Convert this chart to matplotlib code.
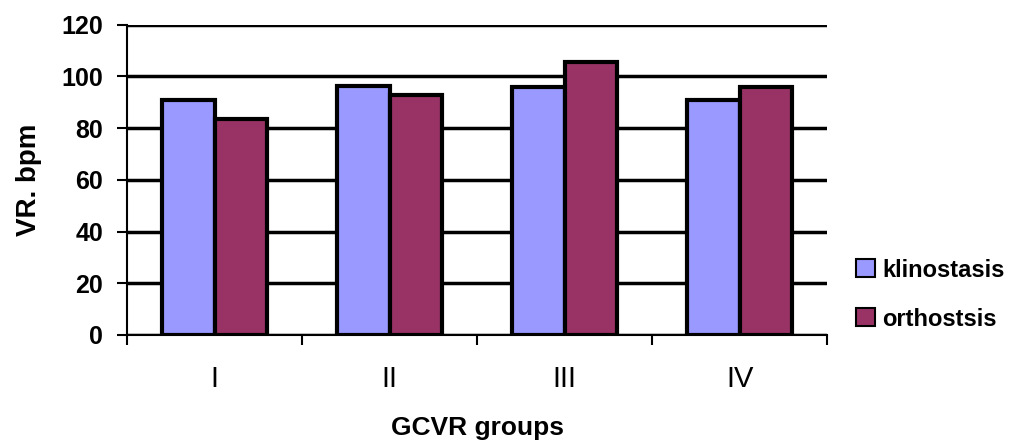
import matplotlib
matplotlib.use("Agg")
import matplotlib.pyplot as plt
import numpy as np
from matplotlib.patches import Patch

categories = ["I", "II", "III", "IV"]
klinostasis = [91, 96.5, 96, 91]
orthostasis = [83.5, 93, 105.5, 96]
yticks = [0, 20, 40, 60, 80, 100, 120]

plt.rcParams['font.family'] = ['Liberation Sans', 'DejaVu Sans']

fig = plt.figure(figsize=(10.24, 4.43), dpi=100)
ax = fig.add_axes([0.124, 0.244, 0.684, 0.7])

x = np.arange(len(categories))
w = 0.3
ax.bar(x - w/2, klinostasis, w, color="#9999FF", edgecolor="black", linewidth=3, zorder=3, label="klinostasis")
ax.bar(x + w/2, orthostasis, w, color="#993366", edgecolor="black", linewidth=3, zorder=3, label="orthostsis")

ax.set_xlim(-0.5, len(categories) - 0.5)
ax.set_ylim(0, 120)
ax.set_yticks(yticks)
ax.set_yticklabels([str(v) for v in yticks], fontsize=18, fontweight="bold")
ax.yaxis.grid(True, color="black", linewidth=2.5, zorder=0)
ax.set_axisbelow(True)

ax.set_xticks(x)
ax.set_xticklabels(categories, fontsize=21, fontweight="normal")
ax.tick_params(axis="x", length=0, pad=22)
ax.set_xticks(np.arange(-0.5, len(categories) + 0.5, 1), minor=True)
ax.tick_params(axis="x", which="minor", length=7, width=1.5, direction="out")
ax.tick_params(axis="y", length=7, width=1.5, direction="out", pad=10)

for s in ["top", "right"]:
    ax.spines[s].set_visible(False)
ax.spines["left"].set_linewidth(1.5)
ax.spines["bottom"].set_linewidth(1.5)

ax.set_ylabel("VR. bpm", fontsize=20, fontweight="bold", labelpad=14)
ax.set_xlabel("GCVR groups", fontsize=19, fontweight="bold", labelpad=16)

handles = [Patch(facecolor="#9999FF", edgecolor="black", linewidth=1.5),
           Patch(facecolor="#993366", edgecolor="black", linewidth=1.5)]
fig.legend(handles, ["klinostasis", "orthostsis"], loc="center left",
           bbox_to_anchor=(0.836, 0.335), frameon=False, borderpad=0, borderaxespad=0,
           handlelength=0.8, handleheight=0.8, handletextpad=0.3, labelspacing=1.1,
           prop={"weight": "bold", "size": 17})

fig.savefig("out.png", dpi=100)
